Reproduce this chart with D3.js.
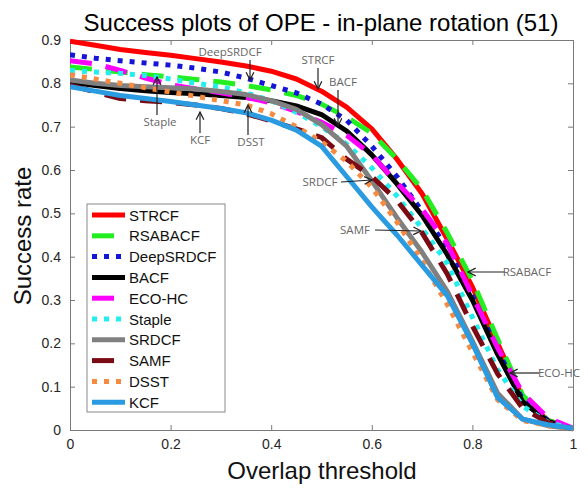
<!DOCTYPE html>
<html>
<head>
<meta charset="utf-8">
<script src="https://cdn.jsdelivr.net/npm/d3@7"></script>
<style>
  body { margin: 0; background: #fff; }
  text { font-family: "Liberation Sans", Arial, sans-serif; }
</style>
</head>
<body>
<svg id="chart" width="588" height="489"></svg>
<script>
// overlap thresholds
var thresholds = [0, 0.05, 0.1, 0.15, 0.2, 0.25, 0.3, 0.35, 0.4, 0.45, 0.5,
                  0.55, 0.6, 0.65, 0.7, 0.75, 0.8, 0.85, 0.9, 0.95, 1];

var trackers = ["STRCF", "RSABACF", "DeepSRDCF", "BACF", "ECO-HC", "Staple", "SRDCF", "SAMF", "DSST", "KCF"];

// success rates
var strcf     = [.897, .888, .878, .871, .865, .857, .849, .840, .828, .810, .782, .745, .695, .625, .545, .440, .330, .200, .075, .022, .003];
var rsabacf   = [.838, .832, .826, .820, .815, .809, .803, .795, .785, .772, .752, .722, .685, .625, .555, .455, .345, .210, .080, .022, .003];
var deepsrdcf = [.866, .858, .852, .847, .842, .835, .826, .812, .795, .778, .752, .715, .655, .585, .505, .420, .310, .185, .070, .022, .003];
var bacf      = [.803, .795, .788, .783, .779, .776, .772, .767, .760, .748, .728, .690, .635, .568, .495, .405, .300, .175, .065, .020, .003];
var ecohc     = [.852, .845, .830, .812, .797, .787, .778, .768, .755, .735, .710, .680, .635, .570, .510, .430, .310, .190, .085, .028, .004];
var staple    = [.830, .826, .823, .818, .810, .800, .792, .778, .760, .733, .700, .660, .605, .540, .465, .385, .260, .140, .055, .018, .003];
var srdcf     = [.808, .800, .795, .792, .790, .787, .781, .774, .760, .740, .705, .655, .575, .490, .410, .320, .205, .085, .025, .010, .003];
var samf      = [.796, .780, .765, .760, .756, .750, .742, .730, .713, .695, .675, .625, .585, .530, .455, .360, .240, .130, .050, .017, .003];
var dsst      = [.820, .810, .800, .790, .780, .770, .760, .750, .730, .700, .665, .620, .560, .480, .390, .290, .180, .070, .022, .010, .003];
var kcf       = [.792, .782, .772, .765, .758, .750, .742, .732, .715, .692, .655, .585, .515, .450, .380, .310, .200, .075, .025, .012, .004];

var xTicks = [0, 0.2, 0.4, 0.6, 0.8, 1];
var yTicks = [0, 0.1, 0.2, 0.3, 0.4, 0.5, 0.6, 0.7, 0.8, 0.9];

var allSeries = [strcf, rsabacf, deepsrdcf, bacf, ecohc, staple, srdcf, samf, dsst, kcf];
var colors = ["#ff0000", "#22ee22", "#1515d8", "#000000", "#ff00ff", "#22eeee", "#808080", "#7a0a14", "#f58a40", "#2a9be0"];
var dashes = [null, "22,14", "5,7", null, "22,14", "5,7", null, "22,14", "5,7", null];

// annotation labels: text, text pos, arrow start, arrow end
var notes = [
    { t: "DeepSRDCF", x: 230, y: 56, a: [250, 60, 250, 80] },
    { t: "STRCF", x: 318, y: 64, a: [318, 68, 318, 89] },
    { t: "BACF", x: 343, y: 86, a: [338, 90, 338, 126] },
    { t: "Staple", x: 160, y: 126, a: [157, 115, 157, 77] },
    { t: "KCF", x: 200, y: 144, a: [200, 133, 200, 112] },
    { t: "DSST", x: 251, y: 146, a: [248, 135, 248, 105] },
    { t: "SRDCF", x: 320, y: 186, a: [341, 182, 372, 180] },
    { t: "SAMF", x: 355, y: 234, a: [375, 230, 421, 231] },
    { t: "RSABACF", x: 527, y: 276, a: [505, 272, 468, 272] },
    { t: "ECO-HC", x: 559, y: 377, a: [539, 373, 510, 373] }
];

var svg = d3.select("#chart");
var margin = { top: 40, left: 70, bottom: 59, right: 15 };
var width = 588, height = 489;

var x = d3.scaleLinear().domain([0, 1]).range([margin.left, width - margin.right]);
var y = d3.scaleLinear().domain([0, 0.9]).range([height - margin.bottom, margin.top]);

svg.append("defs").append("clipPath").attr("id", "clip")
    .append("rect")
    .attr("x", x(0)).attr("y", y(0.9) - 3)
    .attr("width", x(1) - x(0)).attr("height", y(0) - y(0.9) + 6);

// axes, matlab style with ticks inside
var tickCol = "#262626";
var axB = svg.append("g").attr("transform", "translate(0," + y(0) + ")")
    .call(d3.axisBottom(x).tickValues(xTicks).tickSize(-5).tickPadding(9).tickFormat(d3.format("")));
var axT = svg.append("g").attr("transform", "translate(0," + y(0.9) + ")")
    .call(d3.axisTop(x).tickValues(xTicks).tickSize(-5).tickFormat(""));
var axL = svg.append("g").attr("transform", "translate(" + x(0) + ",0)")
    .call(d3.axisLeft(y).tickValues(yTicks).tickSize(-5).tickPadding(9).tickFormat(d3.format("")));
var axR = svg.append("g").attr("transform", "translate(" + x(1) + ",0)")
    .call(d3.axisRight(y).tickValues(yTicks).tickSize(-5).tickFormat(""));
[axB, axT, axL, axR].forEach(function (a) {
    a.selectAll("path").attr("stroke", "#7a7a7a");
    a.selectAll("line").attr("stroke", "#7a7a7a");
    a.selectAll("text").attr("fill", tickCol).style("font-size", "14px")
        .style("font-family", "Liberation Sans, Arial, sans-serif");
});

// curves
var line = d3.line()
    .x(function (d, i) { return x(thresholds[i]); })
    .y(function (d) { return y(d); });

var g = svg.append("g").attr("clip-path", "url(#clip)");
allSeries.forEach(function (s, k) {
    g.append("path")
        .attr("d", line(s))
        .attr("fill", "none")
        .attr("stroke", colors[k])
        .attr("stroke-width", 5)
        .attr("stroke-linejoin", "round")
        .attr("stroke-dasharray", dashes[k]);
});

// arrows
svg.append("defs").append("marker")
    .attr("id", "arr").attr("viewBox", "0 0 10 10")
    .attr("refX", 9).attr("refY", 5)
    .attr("markerWidth", 8).attr("markerHeight", 8)
    .attr("orient", "auto")
    .append("path").attr("d", "M1,1 L9,5 L1,9")
    .attr("fill", "none").attr("stroke", "#222").attr("stroke-width", 1.3);

notes.forEach(function (n) {
    svg.append("line")
        .attr("x1", n.a[0]).attr("y1", n.a[1])
        .attr("x2", n.a[2]).attr("y2", n.a[3])
        .attr("stroke", "#222").attr("stroke-width", 1.2)
        .attr("marker-end", "url(#arr)");
    svg.append("text")
        .attr("x", n.x).attr("y", n.y)
        .attr("text-anchor", "middle")
        .attr("fill", "#666")
        .style("font-family", "Open Sans, sans-serif")
        .style("font-size", "11.5px")
        .text(n.t);
});

// legend
var leg = svg.append("g");
leg.append("rect")
    .attr("x", 87).attr("y", 204)
    .attr("width", 138).attr("height", 208)
    .attr("fill", "#fff").attr("stroke", "#8a8a8a").attr("stroke-width", 1);
trackers.forEach(function (name, k) {
    var ly = 215 + k * 20.8;
    leg.append("line")
        .attr("x1", 92).attr("x2", 125)
        .attr("y1", ly).attr("y2", ly)
        .attr("stroke", colors[k]).attr("stroke-width", 5)
        .attr("stroke-dasharray", dashes[k]);
    leg.append("text")
        .attr("x", 129).attr("y", ly + 5.5)
        .attr("fill", "#111")
        .style("font-size", "15px")
        .text(name);
});

// title and axis labels
svg.append("text")
    .attr("x", 321).attr("y", 31)
    .style("text-anchor", "middle")
    .style("font-size", "24px")
    .text("Success plots of OPE - in-plane rotation (51)");

svg.append("text")
    .attr("x", 322).attr("y", 479)
    .style("text-anchor", "middle")
    .style("font-size", "24px")
    .attr("fill", "#111")
    .text("Overlap threshold");

svg.append("text")
    .attr("transform", "translate(" + 31 + " ," + 236 + "), rotate(-90)")
    .style("text-anchor", "middle")
    .style("font-size", "24px")
    .attr("fill", "#111")
    .text("Success rate");
</script>
</body>
</html>
